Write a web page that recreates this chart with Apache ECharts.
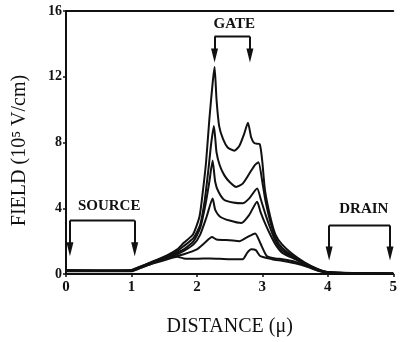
<!DOCTYPE html>
<html>
<head>
<meta charset="utf-8">
<script src="https://cdn.jsdelivr.net/npm/echarts@6/dist/echarts.min.js"></script>
<style>
  html, body { margin: 0; padding: 0; background: #fff; }
  #chart { width: 400px; height: 342px; }
</style>
</head>
<body>
<div id="chart"></div>
<script>
// field profiles, [distance (u), field (1e5 V/cm)], top curve first
const field1 = [[0,0.25],[0.5,0.22],[1.0,0.25],[1.1,0.4],[1.3,0.72],[1.55,1.15],[1.7,1.5],[1.8,1.9],[1.94,2.4],[2.04,3.5],[2.09,5.0],[2.14,6.8],[2.19,9.4],[2.24,11.6],[2.27,12.6],[2.3,10.6],[2.34,9.0],[2.4,8.2],[2.47,7.7],[2.57,7.5],[2.65,7.8],[2.72,8.5],[2.78,9.2],[2.83,8.3],[2.88,7.95],[2.96,7.9],[3.0,6.8],[3.04,5.1],[3.12,3.5],[3.2,2.4],[3.3,1.8],[3.45,1.25],[3.65,0.7],[3.85,0.3],[4.0,0.12],[4.4,0.06],[5.0,0.03]];
const field2 = [[0,0.22],[1.0,0.22],[1.1,0.38],[1.3,0.7],[1.55,1.1],[1.7,1.4],[1.8,1.7],[1.95,2.2],[2.05,3.0],[2.12,4.5],[2.18,6.5],[2.22,8.0],[2.26,9.0],[2.3,7.4],[2.35,6.6],[2.42,6.0],[2.5,5.6],[2.6,5.3],[2.7,5.5],[2.8,6.1],[2.88,6.6],[2.94,6.8],[3.0,5.6],[3.05,4.4],[3.12,3.2],[3.2,2.2],[3.3,1.6],[3.5,1.0],[3.7,0.55],[3.85,0.28],[4.0,0.1],[4.4,0.05],[5,0.03]];
const field3 = [[0,0.2],[1.0,0.2],[1.1,0.36],[1.3,0.68],[1.55,1.05],[1.7,1.3],[1.8,1.5],[1.95,2.0],[2.05,2.8],[2.13,4.2],[2.19,5.6],[2.24,6.9],[2.28,5.6],[2.33,5.0],[2.42,4.5],[2.55,4.35],[2.7,4.3],[2.8,4.6],[2.92,5.2],[2.98,4.5],[3.05,3.6],[3.12,2.8],[3.2,2.0],[3.3,1.45],[3.5,0.95],[3.7,0.5],[3.85,0.26],[4.0,0.1],[4.4,0.05],[5,0.03]];
const field4 = [[0,0.2],[1.0,0.2],[1.1,0.34],[1.3,0.65],[1.55,1.0],[1.7,1.2],[1.8,1.4],[1.95,1.8],[2.05,2.4],[2.15,3.5],[2.24,4.6],[2.28,3.9],[2.35,3.5],[2.5,3.25],[2.68,3.1],[2.8,3.6],[2.92,4.4],[2.97,3.8],[3.05,3.0],[3.12,2.4],[3.2,1.8],[3.3,1.3],[3.5,0.9],[3.7,0.5],[3.85,0.25],[4.0,0.1],[4.4,0.05],[5,0.02]];
const field5 = [[0,0.18],[1.0,0.18],[1.1,0.32],[1.3,0.62],[1.55,0.95],[1.7,1.1],[1.8,1.2],[2.0,1.5],[2.12,1.9],[2.23,2.25],[2.3,2.1],[2.5,2.05],[2.65,2.0],[2.75,2.2],[2.89,2.47],[2.97,1.87],[3.07,1.08],[3.2,0.95],[3.3,0.9],[3.5,0.75],[3.7,0.45],[3.85,0.22],[4.0,0.08],[4.4,0.04],[5,0.02]];
const field6 = [[0,0.16],[1.0,0.16],[1.1,0.3],[1.3,0.6],[1.55,0.9],[1.7,1.05],[1.8,0.95],[2.0,0.93],[2.2,0.95],[2.5,0.9],[2.7,0.9],[2.77,1.3],[2.83,1.5],[2.9,1.45],[2.97,1.08],[3.15,0.9],[3.3,0.8],[3.5,0.65],[3.7,0.42],[3.85,0.2],[4.0,0.07],[4.4,0.03],[5,0.02]];
const curves = [field1, field2, field3, field4, field5, field6];

const xTicks = [0, 1, 2, 3, 4, 5];
const yTicks = [0, 4, 8, 12, 16];

// region brackets: [left x, right x, bar y, arrow tip y], label position [x, y]
const regions = [
  { name: 'SOURCE', bracket: [0.06, 1.05, 3.25, 1.1], label: [0.66, 4.15] },
  { name: 'GATE', bracket: [2.27, 2.81, 14.45, 12.9], label: [2.57, 15.2] },
  { name: 'DRAIN', bracket: [4.02, 4.95, 2.95, 0.85], label: [4.55, 3.95] }
];

const ink = '#111';
const serif = 'Liberation Serif';

const chart = echarts.init(document.getElementById('chart'), null, { renderer: 'canvas' });

const lineSeries = curves.map((c, i) => ({
  name: 'curve' + (i + 1),
  type: 'line',
  data: c,
  smooth: 0.2,
  showSymbol: false,
  lineStyle: { color: ink, width: 2 },
  z: 3
}));

const bracketSeries = regions.map(r => {
  const [x0, x1, yb, yt] = r.bracket;
  return {
    name: r.name,
    type: 'line',
    data: [[x0, yb], [x1, yb]],
    showSymbol: false,
    lineStyle: { color: ink, width: 2 },
    markLine: {
      silent: true,
      symbol: ['none', 'triangle'],
      symbolSize: [7, 14],
      symbolRotate: 180,
      label: { show: false },
      lineStyle: { color: ink, width: 2, type: 'solid' },
      data: [
        [{ coord: [x0, yb] }, { coord: [x0, yt + 0.4] }],
        [{ coord: [x1, yb] }, { coord: [x1, yt + 0.4] }]
      ]
    },
    markPoint: {
      silent: true,
      symbol: 'rect',
      symbolSize: 1,
      itemStyle: { color: 'rgba(0,0,0,0)' },
      label: {
        show: true,
        position: 'inside',
        formatter: r.name,
        color: ink,
        fontFamily: serif,
        fontWeight: 'bold',
        fontSize: 15
      },
      data: [{ coord: r.label }]
    },
    z: 4
  };
});

chart.setOption({
  animation: false,
  grid: { left: 66, right: 3, top: 11, bottom: 64 },
  xAxis: [{
    type: 'value',
    min: 0, max: 5, interval: 1,
    name: 'DISTANCE (\u03bc)',
    nameLocation: 'middle',
    nameGap: 43,
    nameTextStyle: { color: ink, fontFamily: serif, fontSize: 20 },
    axisLine: { lineStyle: { color: ink, width: 2 } },
    axisTick: { show: true, length: 3, lineStyle: { color: ink, width: 1.5 } },
    axisLabel: { color: ink, fontFamily: serif, fontWeight: 'bold', fontSize: 15, margin: 6,
      customValues: xTicks },
    splitLine: { show: false }
  }, {
    type: 'value',
    position: 'top',
    min: 0, max: 5,
    axisLine: { show: true, lineStyle: { color: ink, width: 2 } },
    axisTick: { show: false },
    axisLabel: { show: false },
    splitLine: { show: false }
  }],
  yAxis: {
    type: 'value',
    min: 0, max: 16, interval: 4,
    name: 'FIELD (10\u2075 V/cm)',
    nameLocation: 'middle',
    nameRotate: 90,
    nameGap: 36,
    nameTextStyle: { color: ink, fontFamily: serif, fontSize: 20, padding: [0, 16, 0, 0] },
    axisLine: { show: true, lineStyle: { color: ink, width: 2 } },
    axisTick: { show: true, length: 3, lineStyle: { color: ink, width: 1.5 } },
    axisLabel: { color: ink, fontFamily: serif, fontWeight: 'bold', fontSize: 14, margin: 4,
      customValues: yTicks },
    splitLine: { show: false }
  },
  series: lineSeries.concat(bracketSeries)
});
</script>
</body>
</html>
